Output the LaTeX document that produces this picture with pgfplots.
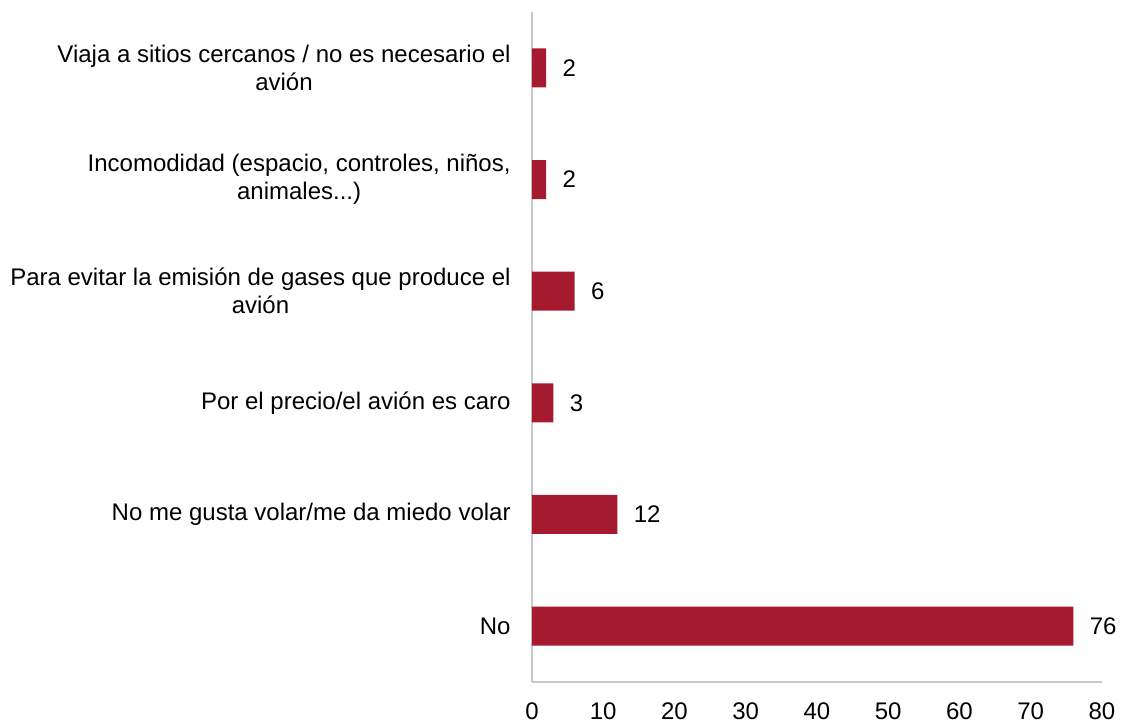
\documentclass[border=0pt]{standalone}
\usepackage{pgfplots}
\pgfplotsset{compat=1.18}
\usepackage{fontspec}
\setmainfont{Liberation Sans}
\definecolor{barred}{RGB}{166,26,48}
\definecolor{axgray}{RGB}{200,200,200}
\begin{document}
\begin{tikzpicture}
\useasboundingbox (-266pt,-20pt) rectangle (294.5pt,341pt);
\begin{axis}[
  at={(0,0)}, anchor=south west,
  scale only axis, width=285pt, height=335pt,
  xbar, bar width=19.5pt,
  xmin=0, xmax=80, xtick={0,10,20,30,40,50,60,70,80},
  ymin=0.5, ymax=6.5, ytick={1,2,3,4,5,6},
  yticklabels={No, No me gusta volar/me da miedo volar, Por el precio/el avión es caro, {Para evitar la emisión de gases que produce el\\avión}, {Incomodidad (espacio, controles, niños,\\animales.{}.{}.)}, {Viaja a sitios cercanos / no es necesario el\\avión}},
  axis x line*=bottom, axis y line*=left,
  axis line style={-, draw=axgray, line width=1pt},
  major tick length=0pt,
  tick style={draw=none},
  /pgf/number format/assume math mode=true,
  every tick label/.append style={font=\fontsize{12}{14}\selectfont, text=black},
  yticklabel style={align=center, inner sep=0pt, xshift=-10.5pt},
  xticklabel style={inner sep=0pt, yshift=-10pt},
  nodes near coords,
  nodes near coords style={font=\fontsize{12}{14}\selectfont, anchor=west, inner sep=0pt, xshift=8pt, text=black},
  clip=false,
]
\addplot[fill=barred, draw=none] coordinates {(76,1) (12,2) (3,3) (6,4) (2,5) (2,6)};
\end{axis}
\end{tikzpicture}
\end{document}
